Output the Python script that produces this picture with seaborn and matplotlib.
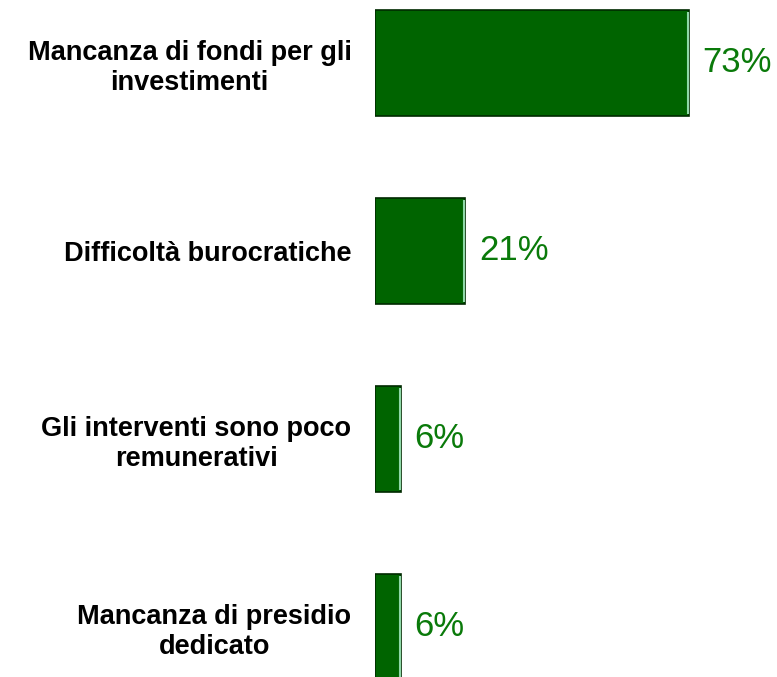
import matplotlib
matplotlib.use('Agg')
import matplotlib.pyplot as plt
import seaborn as sns
import pandas as pd

# Data
categories = [
    'Mancanza di fondi per gli\ninvestimenti',
    'Difficoltà burocratiche',
    'Gli interventi sono poco\nremunerativi',
    'Mancanza di presidio\ndedicato',
]
values = [73, 21, 6, 6]

df = pd.DataFrame({'categoria': categories, 'valore': values})

sns.set_style('white')
plt.rcParams['font.family'] = ['Liberation Sans', 'DejaVu Sans']

fig = plt.figure(figsize=(7.77, 6.77), dpi=100)
ax = fig.add_axes([375 / 777, 0.0, 402 / 777, 1.0])

sns.barplot(data=df, x='valore', y='categoria', orient='h', ax=ax,
            color='#006400', width=0.565, saturation=1,
            edgecolor='#002a00', linewidth=1.2)

# light highlight on the right end of each bar
for p in ax.patches:
    x_end = p.get_x() + p.get_width()
    ax.plot([x_end - 0.25, x_end - 0.25], [p.get_y() + 0.01, p.get_y() + p.get_height() - 0.01],
            color='#8fd8a8', linewidth=1.5, solid_capstyle='butt')

for i, v in enumerate(values):
    ax.text(v + 3.2, i, f'{v}%', va='center', ha='left',
            fontsize=25, color='#0a7a0a')

ax.set_xlim(0, 93.5)
ax.set_ylim(3.266, -0.335)
ax.set_xlabel('')
ax.set_ylabel('')
ax.set_xticks([])
ax.tick_params(axis='y', length=0, pad=17)
for lab in ax.get_yticklabels():
    lab.set_fontsize(19.5)
    lab.set_fontweight('bold')
    lab.set_multialignment('center')
    lab.set_color('black')
sns.despine(ax=ax, left=True, bottom=True)

fig.savefig('out.png', dpi=100)
plt.close(fig)
